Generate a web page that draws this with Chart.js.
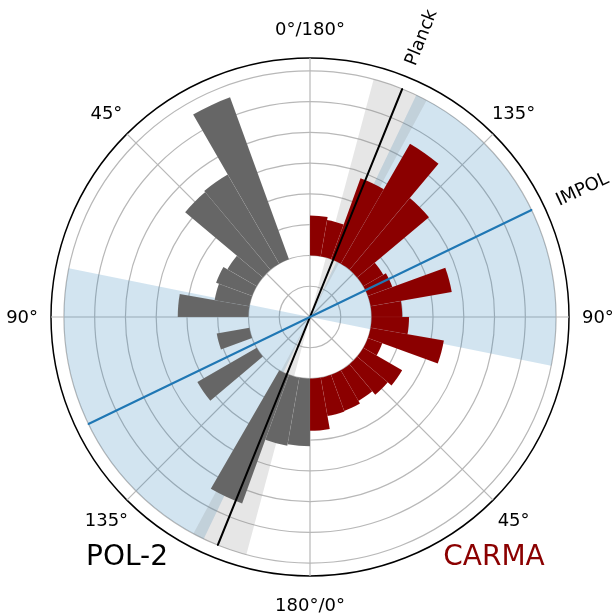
<!DOCTYPE html>
<html lang="en">
<head>
  <meta charset="UTF-8">
  <title>POL-2 / CARMA polarization angle rose</title>
  <script src="https://cdn.jsdelivr.net/npm/chart.js"></script>
  <style>
    body { margin: 0; background: #fff; }
    #wrap { width: 614px; height: 616px; }
  </style>
</head>
<body>
  <div id="wrap"><canvas id="rose" width="614" height="616"></canvas></div>

  <script>
    // 10 degree bins over 0-180 deg for each instrument
    const binStarts = [0, 10, 20, 30, 40, 50, 60, 70, 80, 90, 100, 110, 120, 130, 140, 150, 160, 170];
    // bar heights above the inner ring (radius 2)
    const carmaCounts = [1.7, 1.27, 1.25, 1.15, 1.3, 1.46, 0.5, 2.42, 1.22, 1.0, 2.68, 0.85, 0.75, 3.05, 4.5, 2.8, 1.2, 1.3];
    const pol2Counts = [0, 0, 5.6, 3.35, 3.3, 1.1, 1.25, 1.15, 2.3, 0, 1.08, 0, 2.23, 0, 0, 4.45, 2.25, 2.2];
    const barBase = 2;

    // reference angles (deg, same convention as the bins) and their ranges
    const planckAngle = 158;
    const planckRange = [151.7, 165];
    const impolAngle = 115.8;
    const impolRange = [78.6, 154.4];

    const spokeLabels = ['0°/180°', '135°', '90°', '45°', '180°/0°', '135°', '90°', '45°'];
    const gridValues = [0, 1, 2, 3, 4, 5, 6, 7, 8, 8.42];
    const rMax = 8.42;
    const refLength = 8;

    // screen angle: clockwise from top, right half = CARMA (180 at top), left half = POL-2 (0 at top)
    const toScreen = a => 180 - a;

    // a wedge through the centre covering [a, b] and the opposite side
    function bandSegments(range) {
      const a = toScreen(range[1]), b = toScreen(range[0]);
      return { data: [0, refLength, 0, refLength, 0], angle: [a, b - a, 180 - (b - a), b - a, 180 - b] };
    }
    // a thin sliver that is stroked, giving a full diameter line
    function lineSegments(ang) {
      const p = toScreen(ang), eps = 0.02;
      return { data: [0, refLength, 0, refLength, 0], angle: [p, eps, 180 - eps, eps, 180 - p - eps] };
    }

    const carmaBars = carmaCounts.slice().reverse();
    const pol2Bars = pol2Counts.slice().reverse();
    const barHeights = carmaBars.concat(pol2Bars);
    const barLabels = binStarts.slice().reverse().map(b => 'CARMA ' + b + '-' + (b + 10))
      .concat(binStarts.slice().reverse().map(b => 'POL-2 ' + b + '-' + (b + 10)));
    const barColors = carmaBars.map(() => '#8b0000').concat(pol2Bars.map(() => '#666666'));

    const planckBand = bandSegments(planckRange);
    const impolBand = bandSegments(impolRange);
    const planckLine = lineSegments(planckAngle);
    const impolLine = lineSegments(impolAngle);

    // bars sit on top of the inner ring, not on the centre
    const holePlugin = {
      id: 'hole',
      afterDatasetUpdate(chart, args) {
        const base = chart.data.datasets[args.index].base;
        if (base === undefined) return;
        const inner = chart.scales.r.getDistanceFromCenterForValue(base);
        args.meta.data.forEach(arc => { arc.innerRadius = inner; });
      }
    };

    const textPlugin = {
      id: 'angleText',
      afterDraw(chart) {
        const s = chart.scales.r;
        const ctx = chart.ctx;
        ctx.save();
        ctx.fillStyle = '#000';
        ctx.textAlign = 'center';
        ctx.textBaseline = 'middle';
        ctx.font = '18px "DejaVu Sans"';
        const d = s.getDistanceFromCenterForValue(9.36);
        spokeLabels.forEach((t, i) => {
          const p = s.getPointPosition(i, d);
          ctx.fillText(t, p.x, p.y + 1);
        });

        // rotated names at the end of each reference line
        [['Planck', toScreen(planckAngle) - 0.2], ['IMPOL', toScreen(impolAngle) + 0.8]].forEach(([t, phi]) => {
          const rad = phi * Math.PI / 180;
          const dd = s.getDistanceFromCenterForValue(9.78);
          ctx.save();
          ctx.translate(s.xCenter + dd * Math.sin(rad), s.yCenter - dd * Math.cos(rad));
          ctx.rotate(rad - Math.PI / 2);
          ctx.font = '18px "DejaVu Sans"';
          ctx.fillText(t, 0, 0);
          ctx.restore();
        });

        ctx.font = '28px "DejaVu Sans"';
        ctx.fillText('POL-2', s.xCenter - 183, s.yCenter + 241);
        ctx.fillStyle = '#8b0000';
        ctx.fillText('CARMA', s.xCenter + 184, s.yCenter + 241);
        ctx.restore();
      }
    };

    new Chart(document.getElementById('rose'), {
      type: 'polarArea',
      data: {
        labels: barLabels,
        datasets: [
          {
            label: 'IMPOL',
            data: impolLine.data,
            angle: impolLine.angle,
            backgroundColor: 'rgba(0,0,0,0)',
            borderColor: '#1f77b4',
            borderWidth: [0, 2, 0, 2, 0]
          },
          {
            label: 'Planck',
            data: planckLine.data,
            angle: planckLine.angle,
            backgroundColor: 'rgba(0,0,0,0)',
            borderColor: '#000',
            borderWidth: [0, 2, 0, 2, 0]
          },
          {
            label: 'bins',
            base: barBase,
            data: barHeights.map(h => barBase + h),
            backgroundColor: barColors,
            borderColor: 'rgba(255,255,255,0.08)',
            borderWidth: barHeights.map(h => h > 0 ? 0.5 : 0)
          },
          {
            label: 'Planck range',
            data: planckBand.data,
            angle: planckBand.angle,
            backgroundColor: ['rgba(0,0,0,0)', 'rgba(128,128,128,0.2)', 'rgba(0,0,0,0)', 'rgba(128,128,128,0.2)', 'rgba(0,0,0,0)'],
            borderWidth: 0
          },
          {
            label: 'IMPOL range',
            data: impolBand.data,
            angle: impolBand.angle,
            backgroundColor: ['rgba(0,0,0,0)', 'rgba(31,119,180,0.2)', 'rgba(0,0,0,0)', 'rgba(31,119,180,0.2)', 'rgba(0,0,0,0)'],
            borderWidth: 0
          }
        ]
      },
      options: {
        responsive: false,
        animation: false,
        events: [],
        layout: { padding: { left: 51, top: 58, right: 45, bottom: 40 } },
        plugins: { legend: { display: false }, tooltip: { enabled: false } },
        scales: {
          r: {
            min: 0,
            max: rMax,
            startAngle: 0,
            labels: spokeLabels,
            ticks: { display: false, stepSize: 1 },
            afterBuildTicks: scale => { scale.ticks = gridValues.map(v => ({ value: v })); },
            grid: {
              circular: true,
              color: c => c.tick && c.tick.value > 8 ? '#000' : '#b8b8b8',
              lineWidth: c => c.tick && c.tick.value > 8 ? 1.5 : 1.2
            },
            angleLines: { display: true, color: '#b8b8b8', lineWidth: 1.2 },
            pointLabels: { display: false }
          }
        }
      },
      plugins: [holePlugin, textPlugin]
    });
  </script>
</body>
</html>
